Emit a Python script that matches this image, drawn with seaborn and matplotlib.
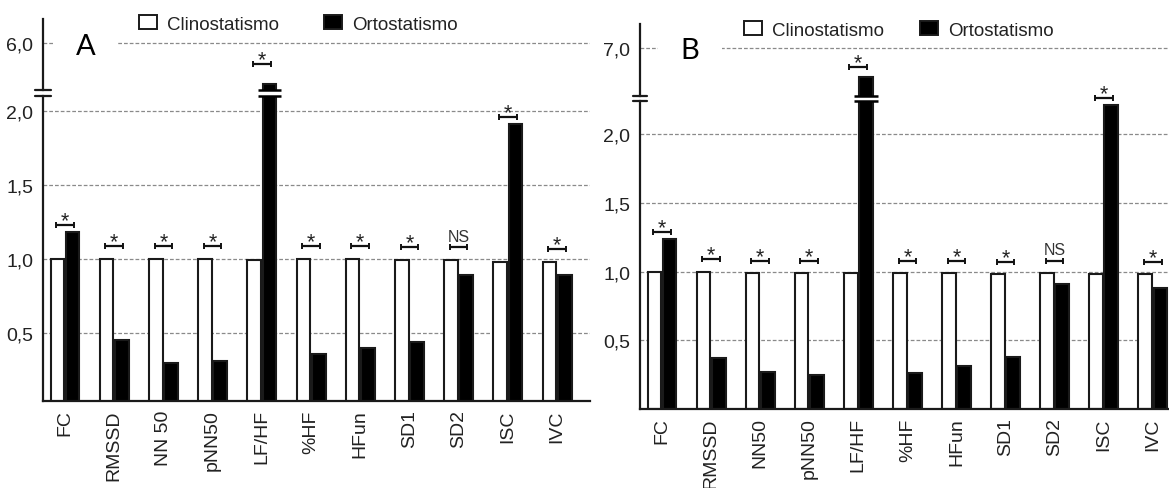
import numpy as np
import pandas as pd
import matplotlib
matplotlib.use("Agg")
import matplotlib.pyplot as plt
import seaborn as sns
from matplotlib.patches import Patch
from matplotlib.transforms import blended_transform_factory

# ---------------- data ----------------
labels_a = ["FC", "RMSSD", "NN 50", "pNN50", "LF/HF", "%HF", "HFun", "SD1", "SD2", "ISC", "IVC"]
labels_b = ["FC", "RMSSD", "NN50", "pNN50", "LF/HF", "%HF", "HFun", "SD1", "SD2", "ISC", "IVC"]

clino_a = [1.00, 1.00, 1.00, 1.00, 0.99, 1.00, 1.00, 0.99, 0.99, 0.98, 0.98]
orto_a = [1.18, 0.45, 0.30, 0.31, 5.12, 0.36, 0.40, 0.44, 0.89, 1.91, 0.89]
sig_a = ["*", "*", "*", "*", "*", "*", "*", "*", "NS", "*", "*"]

clino_b = [1.00, 1.00, 0.99, 0.99, 0.99, 0.99, 0.99, 0.98, 0.99, 0.98, 0.98]
orto_b = [1.24, 0.37, 0.27, 0.25, 6.40, 0.26, 0.31, 0.38, 0.91, 2.21, 0.88]
sig_b = ["*", "*", "*", "*", "*", "*", "*", "*", "NS", "*", "*"]

conditions = ["Clinostatismo", "Ortostatismo"]
yticks_low = [0.5, 1.0, 1.5, 2.0]
yticklabels_low = ["0,5", "1,0", "1,5", "2,0"]
ytick_hi_a, yticklabel_hi_a = 6.0, "6,0"
ytick_hi_b, yticklabel_hi_b = 7.0, "7,0"

# ---------------- style ----------------
sns.set_theme(style="white")
plt.rcParams["font.family"] = ["Liberation Sans", "DejaVu Sans"]
TXT = "#222222"
palette = {"Clinostatismo": "white", "Ortostatismo": "black"}

W, H = 1169, 489
fig = plt.figure(figsize=(W / 100, H / 100), dpi=100)
fig.patch.set_facecolor("white")


def fr(x0, y_top, x1, y_bot):
    return [x0 / W, 1 - y_bot / H, (x1 - x0) / W, (y_bot - y_top) / H]


def panel(lo_box, hi_box, labels, clino, orto, sig, lo_lim, hi_lim, hi_tick, hi_ticklabel,
          xlim, letter, letter_xy, leg_xy, colspace):
    ax_lo = fig.add_axes(lo_box)
    ax_hi = fig.add_axes(hi_box)
    n = len(labels)
    df = pd.DataFrame({
        "Indice": labels * 2,
        "Valor": clino + orto,
        "Condicao": [conditions[0]] * n + [conditions[1]] * n,
    })
    for ax in (ax_lo, ax_hi):
        sns.barplot(data=df, x="Indice", y="Valor", hue="Condicao", order=labels,
                    hue_order=conditions, palette=palette, width=0.62, gap=0.1,
                    edgecolor="#1a1a1a", linewidth=1.5, errorbar=None, legend=False,
                    ax=ax, zorder=2)
        ax.set_xlim(*xlim)
        ax.set_xlabel("")
        ax.set_ylabel("")
        ax.set_facecolor("none")
        ax.set_axisbelow(True)
        ax.yaxis.grid(True, linestyle=(0, (3, 1.6)), color="#8a8a8a", linewidth=0.9)
        ax.xaxis.grid(False)
        for s in ("top", "right"):
            ax.spines[s].set_visible(False)
        ax.spines["left"].set_color("#1a1a1a")
        ax.spines["left"].set_linewidth(1.6)
        ax.tick_params(axis="y", length=0, pad=7, labelsize=14, labelcolor=TXT)

    ax_lo.set_ylim(*lo_lim)
    ax_lo.set_yticks(yticks_low)
    ax_lo.set_yticklabels(yticklabels_low)
    ax_lo.spines["bottom"].set_color("#1a1a1a")
    ax_lo.spines["bottom"].set_linewidth(1.6)
    ax_lo.set_xticks(range(n))
    ax_lo.set_xticklabels(labels, rotation=90, fontsize=14, color=TXT)
    ax_lo.tick_params(axis="x", length=0, pad=6)

    ax_hi.set_ylim(*hi_lim)
    ax_hi.set_yticks([hi_tick])
    ax_hi.set_yticklabels([hi_ticklabel])
    ax_hi.spines["bottom"].set_visible(False)
    ax_hi.set_xticks([])

    # axis break marks
    k = 0.014
    for ax, yy in ((ax_lo, 1.0), (ax_hi, 0.0)):
        ax.plot([-k, k], [yy, yy], transform=ax.transAxes, color="#1a1a1a",
                lw=1.6, clip_on=False, zorder=5)
    # bar break marks on the bar that exceeds the lower range
    hue_off = 0.62 / 4
    for i in range(n):
        if orto[i] > lo_lim[1]:
            xc = i + hue_off
            for ax, yy in ((ax_lo, 1.0), (ax_hi, 0.0)):
                tr = blended_transform_factory(ax.transData, ax.transAxes)
                ax.plot([xc - 0.24, xc + 0.24], [yy, yy], transform=tr, color="black",
                        lw=1.8, clip_on=False, zorder=5, solid_capstyle="butt")

    # significance brackets
    for i in range(n):
        top = max(clino[i], orto[i])
        if top > lo_lim[1]:
            ax = ax_hi
            yb = max(top + 0.2, hi_lim[0] + 0.55)
        else:
            ax = ax_lo
            yb = top + (0.05 if orto[i] > clino[i] else 0.09)
        ax.errorbar(i, yb, xerr=0.18, fmt="none", ecolor="#111111", elinewidth=1.6,
                    capsize=2.2, capthick=1.4, clip_on=False, zorder=6)
        if sig[i] == "*":
            ax.annotate("*", (i, yb), xytext=(0, -1.0), textcoords="offset points",
                        ha="center", va="baseline", fontsize=15.5, color=TXT,
                        annotation_clip=False)
        else:
            ax.annotate(sig[i], (i, yb), xytext=(0, 4.5), textcoords="offset points",
                        ha="center", va="baseline", fontsize=11.5, color="#333333",
                        annotation_clip=False)

    fig.text(letter_xy[0] / W, 1 - letter_xy[1] / H, letter, fontsize=21,
             family=["Lato", "DejaVu Sans"], ha="center", va="center", color="black",
             bbox=dict(facecolor="white", edgecolor="none", pad=16), zorder=10)

    handles = [Patch(facecolor=palette[c], edgecolor="#1a1a1a", linewidth=1.4) for c in conditions]
    fig.legend(handles, conditions, loc="center left",
               bbox_to_anchor=(leg_xy[0] / W, 1 - leg_xy[1] / H), ncol=2, frameon=False,
               fontsize=13.5, handlelength=0.95, handleheight=0.7, handletextpad=0.55,
               columnspacing=colspace, borderpad=0, borderaxespad=0, labelcolor=TXT)


panel(fr(43, 97, 590, 402), fr(43, 20, 590, 91), labels_a, clino_a, orto_a, sig_a,
      (0.04, 2.1), (5.0, 6.5), ytick_hi_a, yticklabel_hi_a,
      (-0.447, 10.67), "A", (86, 47), (139, 25), 2.4)

panel(fr(640, 102, 1169, 410), fr(640, 25, 1169, 97), labels_b, clino_b, orto_b, sig_b,
      (0.0, 2.24), (6.0, 7.5), ytick_hi_b, yticklabel_hi_b,
      (-0.448, 10.33), "B", (690, 51), (744, 31), 1.9)

fig.savefig("out.png", dpi=100, facecolor="white")
